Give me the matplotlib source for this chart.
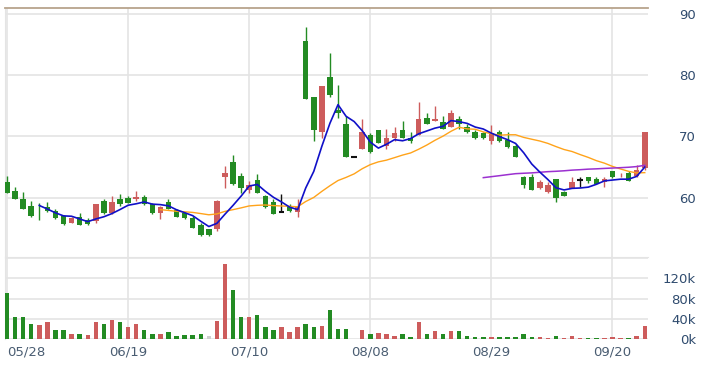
import numpy as np
import matplotlib
matplotlib.use("Agg")
import matplotlib.pyplot as plt

# daily candles (price), red = close above open, green = close below open
opens = [62.5, 61.1, 59.8, 58.7, 57.9, 58.4, 57.9, 57.0, 55.9, 56.9,
         56.4, 56.2, 59.5, 57.5, 59.8, 60.0, 59.8, 60.1, 59.0, 57.5,
         59.3, 58.0, 57.5, 56.7, 55.6, 54.8, 54.8, 63.4, 65.9, 63.6,
         61.3, 62.9, 60.3, 59.3, 57.7, 58.5, 57.7, 85.6, 76.4, 70.8,
         79.8, 74.4, 72.0, 66.7, 67.9, 70.3, 71.0, 68.4, 69.8, 71.0,
         69.8, 70.3, 73.1, 72.5, 72.3, 71.6, 72.9, 71.6, 70.7, 70.5,
         69.2, 70.8, 69.5, 68.5, 63.3, 63.3, 61.5, 61.0, 63.0, 61.0,
         61.6, 62.9, 63.3, 63.1, 62.5, 64.3, 63.5, 64.1, 63.5, 64.8]
highs = [63.6, 61.8, 61.0, 59.5, 59.2, 59.3, 58.2, 57.2, 56.9, 57.5,
         56.6, 59.0, 59.8, 60.2, 60.6, 60.3, 61.1, 60.5, 59.1, 58.7,
         59.8, 58.2, 57.7, 57.0, 55.8, 54.9, 59.6, 65.2, 66.9, 64.1,
         62.8, 63.9, 60.5, 59.7, 60.6, 58.9, 59.7, 87.9, 76.4, 78.2,
         83.6, 78.4, 73.3, 66.7, 72.8, 70.5, 71.1, 71.3, 71.5, 72.5,
         70.7, 75.7, 73.8, 74.9, 73.4, 74.3, 73.4, 72.0, 71.0, 70.8,
         71.8, 71.0, 70.8, 68.7, 63.6, 63.8, 62.9, 62.6, 63.1, 61.1,
         63.4, 63.3, 63.3, 63.4, 63.4, 64.3, 64.1, 64.4, 65.3, 70.7]
lows = [60.7, 59.8, 58.2, 56.9, 56.4, 57.7, 56.5, 55.6, 55.8, 55.5,
        55.6, 55.9, 57.4, 57.4, 58.7, 59.1, 59.5, 58.8, 57.4, 56.5,
        58.1, 56.8, 56.5, 55.0, 53.8, 53.8, 54.6, 61.6, 62.1, 60.7,
        60.8, 60.7, 58.3, 57.3, 57.7, 57.7, 56.9, 76.2, 69.2, 69.8,
        76.5, 73.1, 66.7, 66.7, 67.9, 67.3, 68.9, 67.9, 69.2, 69.7,
        68.9, 70.2, 72.0, 72.5, 71.2, 71.6, 71.3, 70.5, 69.6, 69.6,
        68.7, 69.1, 68.1, 66.6, 61.6, 61.2, 61.4, 60.8, 59.3, 60.2,
        61.5, 61.7, 62.4, 62.2, 61.8, 63.2, 63.3, 62.7, 63.4, 64.6]
closes = [60.8, 59.8, 58.2, 57.0, 57.8, 57.9, 56.7, 55.7, 56.7, 55.6,
          55.7, 58.9, 57.5, 59.3, 58.9, 59.2, 60.1, 59.0, 57.5, 58.5,
          58.2, 56.9, 56.6, 55.1, 53.9, 53.9, 59.5, 64.1, 62.3, 61.5,
          62.1, 60.8, 58.5, 57.4, 57.7, 57.9, 58.7, 76.2, 71.0, 78.2,
          76.7, 73.9, 66.7, 66.7, 70.7, 67.4, 69.0, 69.8, 70.5, 69.8,
          69.2, 72.9, 72.1, 72.8, 71.3, 73.9, 72.0, 70.7, 69.8, 69.7,
          70.5, 69.2, 68.2, 66.7, 62.1, 61.3, 62.6, 62.1, 60.0, 60.3,
          62.6, 62.9, 62.8, 62.3, 63.1, 63.3, 63.6, 62.8, 64.6, 70.7]

# volume in thousands, direction as shown by bar colour (1 up, -1 down, 0 flat)
volume_k = [90.6, 42.8, 42.8, 30.0, 27.6, 32.8, 18.4, 18.4, 10.5, 10.5,
            8.5, 32.8, 30.0, 38.0, 32.8, 23.0, 30.0, 18.4, 10.5, 10.5,
            13.8, 6.6, 7.9, 7.9, 10.5, 6.6, 35.5, 149.0, 97.0, 42.8,
            42.8, 47.3, 23.0, 18.4, 23.0, 13.8, 23.0, 30.0, 23.0, 26.2,
            57.8, 20.4, 20.4, 0.0, 18.4, 10.5, 11.2, 9.2, 6.6, 9.2,
            4.6, 32.8, 9.8, 15.2, 9.8, 15.2, 15.2, 6.6, 4.6, 4.6,
            4.6, 4.6, 4.6, 4.6, 9.2, 4.6, 4.6, 2.0, 6.6, 2.0,
            6.6, 2.0, 2.0, 2.0, 2.0, 4.6, 2.0, 2.0, 6.6, 25.0]
volume_dir = [-1, -1, -1, -1, 1, 1, -1, -1, 1, -1,
              1, 1, -1, 1, -1, 1, 1, -1, -1, 1,
              -1, -1, -1, -1, -1, 0, 1, 1, -1, -1,
              1, -1, -1, -1, 1, 1, 1, -1, -1, 1,
              -1, -1, -1, 0, 1, -1, 1, 1, 1, -1,
              -1, 1, -1, 1, -1, 1, -1, -1, -1, -1,
              1, -1, -1, -1, -1, -1, 1, 1, -1, 1,
              1, 1, -1, -1, 1, 1, 1, -1, 1, 1]

# moving averages (5, 20 and 60 day)
ma5_start = 4
ma5 = [58.72, 58.14, 57.52, 57.02, 56.96, 56.52, 56.08, 56.52, 56.88, 57.40,
       58.06, 58.76, 59.00, 59.30, 58.94, 58.86, 58.66, 58.02, 57.54, 57.06,
       56.14, 55.28, 55.80, 57.30, 58.74, 60.26, 61.90, 62.16, 61.04, 60.06,
       59.30, 58.46, 58.04, 61.58, 64.30, 68.40, 72.16, 75.20, 73.30, 72.44,
       70.94, 69.08, 68.10, 68.72, 69.48, 69.30, 69.66, 70.44, 70.90, 71.36,
       71.66, 72.60, 72.42, 72.14, 71.54, 71.22, 70.54, 69.98, 69.48, 68.86,
       67.34, 65.50, 64.18, 62.96, 61.62, 61.26, 61.52, 61.58, 61.72, 62.18,
       62.74, 62.88, 63.02, 63.02, 63.48, 65.00]
ma20_start = 19
ma20 = [58.04, 57.91, 57.77, 57.69, 57.59, 57.40, 57.20, 57.34, 57.76, 58.04,
        58.33, 58.65, 58.75, 58.80, 58.70, 58.64, 58.58, 58.51, 59.37, 60.04,
        61.03, 61.95, 62.80, 63.31, 63.89, 64.73, 65.40, 65.85, 66.13, 66.54,
        66.96, 67.31, 67.92, 68.60, 69.37, 70.05, 70.85, 71.51, 71.24, 71.18,
        70.75, 70.44, 70.21, 70.28, 70.28, 69.85, 69.55, 69.26, 68.87, 68.35,
        67.87, 67.54, 67.04, 66.58, 66.05, 65.64, 65.11, 64.69, 64.30, 64.04,
        64.09]
ma60_start = 59
ma60 = [63.27, 63.43, 63.59, 63.76, 63.92, 63.99, 64.05, 64.15, 64.25, 64.31,
        64.39, 64.50, 64.57, 64.66, 64.71, 64.78, 64.84, 64.90, 64.97, 65.08,
        65.29]

date_ticks = [0, 15, 30, 45, 60, 75]
date_labels = ["05/28", "06/19", "07/10", "08/08", "08/29", "09/20"]
price_ticks = [60, 70, 80, 90]
vol_ticks = [0, 40, 80, 120]
vol_labels = ["0k", "40k", "80k", "120k"]

UP = "#cd5c5c"
DOWN = "#238b23"
FLAT = "#111111"
GRID = "#e4e4e4"
TXT = "#2f4b6e"

o = np.array(opens)
h = np.array(highs)
l = np.array(lows)
c = np.array(closes)
x = np.arange(len(c))

fig = plt.figure(figsize=(7.03, 3.67), dpi=100)
ax = fig.add_axes([5 / 703, 1 - 257 / 367, 643 / 703, 249 / 367])
axv = fig.add_axes([5 / 703, 1 - 339 / 367, 643 / 703, 81 / 367])

# candles
cols = np.where(c > o, UP, np.where(c < o, DOWN, FLAT))
ax.vlines(x, l, h, colors=cols, linewidth=1.0, zorder=3)
body = np.abs(c - o)
flat = body == 0
ax.bar(x[~flat], body[~flat], bottom=np.minimum(o, c)[~flat], width=0.68,
       color=cols[~flat], linewidth=0, zorder=4)
ax.hlines(c[flat], x[flat] - 0.34, x[flat] + 0.34, colors=FLAT, linewidth=1.5, zorder=4)

# moving averages
ax.plot(np.arange(len(ma20)) + ma20_start, ma20, color="#ffa31a", linewidth=1.0, zorder=5)
ax.plot(np.arange(len(ma60)) + ma60_start, ma60, color="#9b30d0", linewidth=1.1, zorder=5)
ax.plot(np.arange(len(ma5)) + ma5_start, ma5, color="#1010c8", linewidth=1.2, zorder=6)

ax.set_xlim(-0.25, 79.4)
ax.set_ylim(50.3, 91.0)
ax.set_yticks(price_ticks)
ax.set_xticks(date_ticks)
ax.set_xticklabels([])
ax.yaxis.tick_right()
ax.tick_params(axis="y", length=0, pad=34.5, labelsize=9.5, labelcolor=TXT)
ax.tick_params(axis="x", length=0)
for t in ax.get_yticklabels():
    t.set_horizontalalignment("right")
ax.grid(True, color=GRID, linewidth=1.2, zorder=0)
ax.set_axisbelow(True)
ax.spines["top"].set_color("#b8a48c")
ax.spines["top"].set_linewidth(1.3)
ax.spines["right"].set_visible(False)
ax.spines["left"].set_color(GRID)
ax.spines["bottom"].set_color(GRID)

# volume
vcols = [UP if d > 0 else (DOWN if d < 0 else "#cfcfcf") for d in volume_dir]
axv.bar(x, volume_k, width=0.55, color=vcols, linewidth=0, zorder=3)
axv.set_xlim(-0.25, 79.4)
axv.set_ylim(0, 160)
axv.set_yticks(vol_ticks + [160])
axv.set_yticklabels(vol_labels + [""])
axv.yaxis.tick_right()
axv.tick_params(axis="y", length=0, pad=34.5, labelsize=9.5, labelcolor=TXT)
for t in axv.get_yticklabels():
    t.set_horizontalalignment("right")
axv.set_xticks(date_ticks)
axv.set_xticklabels(date_labels)
axv.tick_params(axis="x", length=0, pad=5, labelsize=9.5, labelcolor="#4a5d72")
axv.get_xticklabels()[0].set_horizontalalignment("left")
axv.grid(True, color=GRID, linewidth=1.2, zorder=0)
axv.set_axisbelow(True)
for s in ["top", "right", "bottom"]:
    axv.spines[s].set_visible(False)
axv.spines["left"].set_color(GRID)

fig.savefig("out.png", dpi=100)
